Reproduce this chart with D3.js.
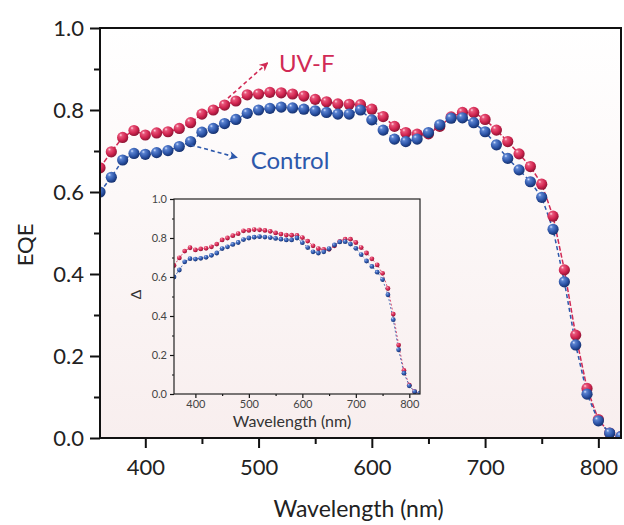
<!DOCTYPE html>
<html>
<head>
<meta charset="utf-8">
<script src="https://cdn.jsdelivr.net/npm/d3@7"></script>
<style>
  html, body { margin: 0; padding: 0; background: #fff; }
  svg { display: block; font-family: Lato, "Open Sans", sans-serif; }
</style>
</head>
<body>
<svg id="chart" width="624" height="525"></svg>
<script>
// EQE spectra, 360–820 nm in 10 nm steps
const wavelengths = d3.range(360, 821, 10);
const eqeControl = [
  0.600, 0.636, 0.678, 0.694, 0.692, 0.696, 0.701, 0.711, 0.723, 0.746,
  0.755, 0.767, 0.777, 0.792, 0.800, 0.804, 0.807, 0.805, 0.802, 0.798,
  0.794, 0.790, 0.790, 0.800, 0.776, 0.751, 0.729, 0.723, 0.729, 0.745,
  0.764, 0.780, 0.781, 0.769, 0.747, 0.715, 0.682, 0.654, 0.625, 0.587,
  0.509, 0.381, 0.227, 0.107, 0.042, 0.012, 0.004
];
const eqeUVF = [
  0.659, 0.698, 0.733, 0.750, 0.739, 0.744, 0.747, 0.755, 0.769, 0.790,
  0.800, 0.812, 0.822, 0.837, 0.839, 0.843, 0.842, 0.839, 0.834, 0.826,
  0.820, 0.815, 0.814, 0.813, 0.802, 0.784, 0.760, 0.745, 0.741, 0.742,
  0.760, 0.783, 0.794, 0.794, 0.777, 0.751, 0.723, 0.693, 0.662, 0.619,
  0.541, 0.410, 0.251, 0.121, 0.045, 0.012, 0.004
];
const xTicks = [400, 500, 600, 700, 800];
const yTicks = [0.0, 0.2, 0.4, 0.6, 0.8, 1.0];

const RED = "#d12a55", BLUE = "#2d58ab";

const series = [
  { name: "UV-F", values: eqeUVF, color: RED, grad: "ballRed", dash: "5,2" },
  { name: "Control", values: eqeControl, color: BLUE, grad: "ballBlue", dash: "4,3" }
];

const svg = d3.select("#chart");
const defs = svg.append("defs");

// plot-area background: white fading to a faint pink
const bg = defs.append("linearGradient").attr("id", "plotBg")
  .attr("x1", 0).attr("y1", 0).attr("x2", 0).attr("y2", 1);
bg.append("stop").attr("offset", "0%").attr("stop-color", "#ffffff");
bg.append("stop").attr("offset", "100%").attr("stop-color", "#f8eeee");

// shaded sphere markers
function ball(id, hi, mid, base, edge) {
  const g = defs.append("radialGradient").attr("id", id)
    .attr("cx", "40%").attr("cy", "35%").attr("r", "65%").attr("fx", "32%").attr("fy", "28%");
  g.append("stop").attr("offset", "0%").attr("stop-color", hi);
  g.append("stop").attr("offset", "22%").attr("stop-color", mid);
  g.append("stop").attr("offset", "65%").attr("stop-color", base);
  g.append("stop").attr("offset", "100%").attr("stop-color", edge);
}
ball("ballRed", "#ffd6e0", "#e8557a", "#d0244f", "#8c1434");
ball("ballBlue", "#d4e2ff", "#5a82d0", "#2d55a8", "#15306e");

// arrowheads
[["arrRed", RED], ["arrBlue", BLUE]].forEach(([id, c]) => {
  defs.append("marker").attr("id", id).attr("viewBox", "0 0 10 10")
    .attr("refX", 9).attr("refY", 5).attr("markerWidth", 5.5).attr("markerHeight", 5.5)
    .attr("orient", "auto").attr("markerUnits", "strokeWidth")
    .append("path").attr("d", "M0,0 L10,5 L0,10 L3,5 Z").attr("fill", c);
});

// ---------- main panel ----------
const M = { left: 100, right: 621, top: 28, bottom: 438 };
const x = d3.scaleLinear().domain([360, 820]).range([M.left, M.right]);
const y = d3.scaleLinear().domain([0, 1]).range([M.bottom, M.top]);

svg.append("rect").attr("x", M.left).attr("y", M.top)
  .attr("width", M.right - M.left).attr("height", M.bottom - M.top)
  .attr("fill", "url(#plotBg)");

defs.append("clipPath").attr("id", "mainClip").append("rect")
  .attr("x", M.left).attr("y", M.top - 10)
  .attr("width", M.right - M.left).attr("height", M.bottom - M.top + 10);

// axes with major and minor ticks
function addAxis(g, axisFn, scale, major, minor, bigLen, smallLen, pad, fontSize, color, lw) {
  g.call(axisFn(scale).tickValues(minor).tickSize(smallLen).tickFormat(""))
    .call(a => a.select(".domain").remove());
  g.selectAll("line").attr("stroke", "#111").attr("stroke-width", lw);
  const gm = g.append("g");
  gm.call(axisFn(scale).tickValues(major).tickSize(bigLen).tickPadding(pad)
      .tickFormat(axisFn === d3.axisLeft ? d3.format(".1f") : d3.format("d")))
    .call(a => a.select(".domain").remove());
  gm.attr("fill", null).attr("font-size", null).attr("font-family", null);
  gm.selectAll("line").attr("stroke", "#111").attr("stroke-width", lw);
  gm.selectAll("text").attr("font-size", fontSize).attr("fill", color)
    .attr("font-family", "Lato, sans-serif");
}

const gx = svg.append("g").attr("transform", `translate(0,${M.bottom})`);
addAxis(gx, d3.axisBottom, x, xTicks, d3.range(450, 801, 100), 10, 6, 11, 22, "#222", 2);
const gy = svg.append("g").attr("transform", `translate(${M.left},0)`);
addAxis(gy, d3.axisLeft, y, yTicks, d3.range(0.1, 1.0, 0.2), 10, 6, 6, 22, "#222", 2);

svg.append("text").attr("x", (M.left + M.right) / 2 - 2).attr("y", 517)
  .attr("text-anchor", "middle").attr("font-size", 23).attr("fill", "#222")
  .text("Wavelength (nm)");
svg.append("text").attr("transform", `translate(33,${(M.top + M.bottom) / 2 + 12}) rotate(-90)`)
  .attr("text-anchor", "middle").attr("font-size", 22).attr("fill", "#222")
  .text("EQE");

// connecting lines and sphere markers
const mainLayer = svg.append("g").attr("clip-path", "url(#mainClip)");
series.forEach(s => {
  const pts = wavelengths.map((w, i) => [w, s.values[i]]);
  mainLayer.append("path").datum(pts)
    .attr("fill", "none").attr("stroke", s.color).attr("stroke-width", 1.5)
    .attr("stroke-dasharray", s.dash)
    .attr("d", d3.line().x(d => x(d[0])).y(d => y(d[1])));
});
series.forEach(s => {
  mainLayer.append("g").selectAll("circle")
    .data(wavelengths.map((w, i) => [w, s.values[i]]))
    .join("circle")
    .attr("cx", d => x(d[0])).attr("cy", d => y(d[1])).attr("r", 5.6)
    .attr("fill", `url(#${s.grad})`);
});

// frame
svg.append("rect").attr("x", M.left).attr("y", M.top)
  .attr("width", M.right - M.left).attr("height", M.bottom - M.top)
  .attr("fill", "none").attr("stroke", "#111").attr("stroke-width", 2);

// series annotations
function note(x0, y0, x1, y1, marker, color, label, lx, ly) {
  svg.append("line").attr("x1", x(x0)).attr("y1", y(y0)).attr("x2", x(x1)).attr("y2", y(y1))
    .attr("stroke", color).attr("stroke-width", 1.6).attr("stroke-dasharray", "4,3")
    .attr("marker-end", `url(#${marker})`);
  svg.append("text").attr("x", x(lx)).attr("y", y(ly))
    .attr("font-size", 24).attr("fill", color).text(label);
}
note(473, 0.829, 508, 0.915, "arrRed", RED, "UV-F", 518, 0.892);
note(440, 0.715, 481, 0.684, "arrBlue", BLUE, "Control", 493, 0.655);

// ---------- inset ----------
const I = { left: 174, right: 420, top: 199, bottom: 394 };
const xi = d3.scaleLinear().domain([360, 820]).range([I.left, I.right]);
const yi = d3.scaleLinear().domain([0, 1]).range([I.bottom, I.top]);

defs.append("clipPath").attr("id", "insetClip").append("rect")
  .attr("x", I.left).attr("y", I.top).attr("width", I.right - I.left).attr("height", I.bottom - I.top);

const gxi = svg.append("g").attr("transform", `translate(0,${I.bottom})`);
addAxis(gxi, d3.axisBottom, xi, xTicks, d3.range(450, 801, 100), 4, 2, 2, 11, "#444", 1.2);
const gyi = svg.append("g").attr("transform", `translate(${I.left},0)`);
addAxis(gyi, d3.axisLeft, yi, yTicks, d3.range(0.1, 1.0, 0.2), 4, 2, 3, 11, "#444", 1.2);

svg.append("text").attr("x", (I.left + I.right) / 2 - 5).attr("y", 427)
  .attr("text-anchor", "middle").attr("font-size", 16).attr("fill", "#333")
  .text("Wavelength (nm)");
svg.append("text").attr("transform", `translate(141,${(I.top + I.bottom) / 2 - 2}) rotate(-90)`)
  .attr("text-anchor", "middle").attr("font-size", 14).attr("fill", "#333")
  .text("Δ");

const insetLayer = svg.append("g").attr("clip-path", "url(#insetClip)");
series.forEach(s => {
  const pts = wavelengths.map((w, i) => [w, s.values[i]]);
  insetLayer.append("path").datum(pts)
    .attr("fill", "none").attr("stroke", s.color).attr("stroke-width", 0.8)
    .attr("stroke-dasharray", "2,2")
    .attr("d", d3.line().x(d => xi(d[0])).y(d => yi(d[1])));
});
series.forEach(s => {
  insetLayer.append("g").selectAll("circle")
    .data(wavelengths.map((w, i) => [w, s.values[i]]))
    .join("circle")
    .attr("cx", d => xi(d[0])).attr("cy", d => yi(d[1])).attr("r", 2.4)
    .attr("fill", `url(#${s.grad})`);
});

svg.append("rect").attr("x", I.left).attr("y", I.top)
  .attr("width", I.right - I.left).attr("height", I.bottom - I.top)
  .attr("fill", "none").attr("stroke", "#222").attr("stroke-width", 1.2);
</script>
</body>
</html>
